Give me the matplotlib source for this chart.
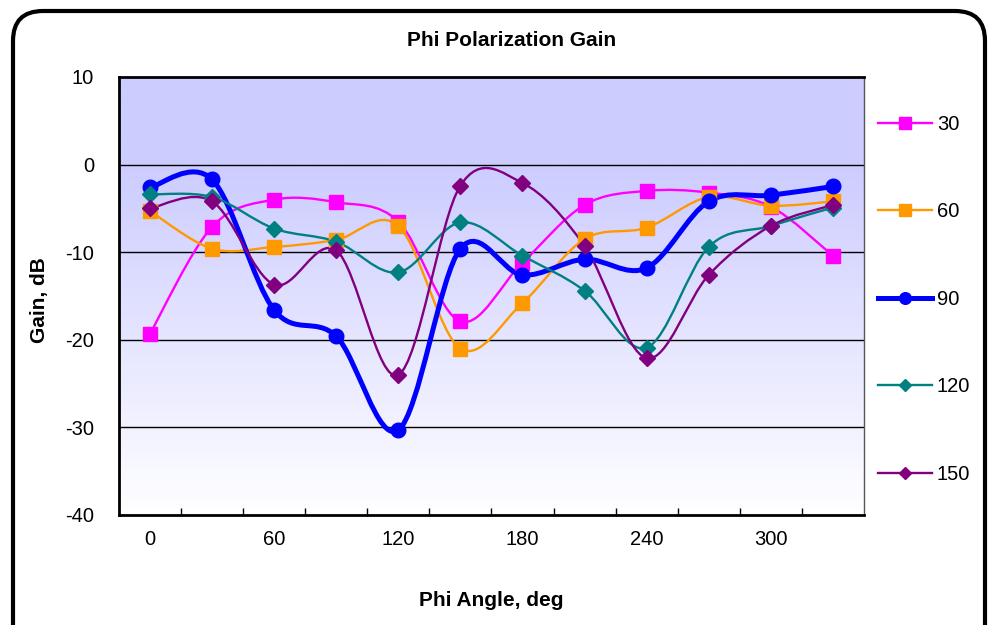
import numpy as np
import matplotlib
matplotlib.use("Agg")
import matplotlib.pyplot as plt
from matplotlib.path import Path
from matplotlib.patches import PathPatch, FancyBboxPatch
from matplotlib.lines import Line2D

plt.rcParams['font.family'] = ['Liberation Sans', 'DejaVu Sans']
plt.rcParams['axes.unicode_minus'] = False

# data
angles = [0, 30, 60, 90, 120, 150, 180, 210, 240, 270, 300, 330]
gain_30 = [-19.3, -7.1, -4.0, -4.3, -6.5, -17.9, -11.2, -4.6, -3.0, -3.2, -4.8, -10.4]
gain_60 = [-5.3, -9.6, -9.4, -8.6, -7.0, -21.0, -15.8, -8.5, -7.2, -3.7, -4.7, -4.2]
gain_90 = [-2.6, -1.7, -16.6, -19.6, -30.3, -9.6, -12.6, -10.8, -11.8, -4.2, -3.5, -2.5]
gain_120 = [-3.4, -3.7, -7.3, -8.8, -12.3, -6.6, -10.4, -14.4, -20.9, -9.4, -7.0, -4.9]
gain_150 = [-5.0, -4.2, -13.7, -9.8, -24.0, -2.4, -2.1, -9.3, -22.1, -12.6, -7.0, -4.6]
series_names = ['30', '60', '90', '120', '150']
tick_labels = ['0', '60', '120', '180', '240', '300']


def smooth_path(xs, ys):
    # Excel-like smoothed line: cubic bezier segments through every point
    p = np.column_stack([xs, ys]).astype(float)
    n = len(p)
    verts = [p[0]]
    codes = [Path.MOVETO]
    for i in range(n - 1):
        p0 = p[i - 1] if i > 0 else p[i]
        p3 = p[i + 2] if i + 2 < n else p[i + 1]
        c1 = p[i] + (p[i + 1] - p0) / 6.0
        c2 = p[i + 1] - (p3 - p[i]) / 6.0
        verts += [c1, c2, p[i + 1]]
        codes += [Path.CURVE4] * 3
    return Path(verts, codes)


fig = plt.figure(figsize=(9.88, 6.25), dpi=100)
ax = fig.add_axes([0.1204, 0.176, 0.754, 0.7008])

# gradient background: lavender on top fading to white at the bottom
yy = np.linspace(10, -40, 400)
t = np.clip(-yy / 40.0, 0, 1)
top = np.array([204, 204, 255]) / 255.0
bot = np.array([255, 255, 255]) / 255.0
grad = top[None, :] * (1 - t[:, None]) + bot[None, :] * t[:, None]
ax.imshow(grad[:, None, :], extent=[-0.5, 11.5, -40, 10], aspect='auto', zorder=0)

x = np.arange(len(angles))
styles = [
    (gain_30, '#FF00FF', 's', 1.7, 10),
    (gain_60, '#FF9900', 's', 1.7, 10),
    (gain_90, '#0000FF', 'o', 3.6, 10.5),
    (gain_120, '#008080', 'D', 1.7, 8),
    (gain_150, '#800080', 'D', 1.7, 8),
]
handles = []
for (vals, col, mk, lw, ms), name in zip(styles, series_names):
    patch = PathPatch(smooth_path(x, vals), facecolor='none', edgecolor=col, lw=lw, zorder=3,
                      capstyle='round', joinstyle='round')
    ax.add_patch(patch)
    ax.plot(x, vals, linestyle='none', marker=mk, color=col, markersize=ms,
            markeredgecolor=col, zorder=4)
    handles.append(Line2D([], [], color=col, lw=lw, marker=mk,
                          markersize=ms * 0.8, label=name))

ax.set_xlim(-0.5, 11.5)
ax.set_ylim(-40, 10)
ax.set_yticks([10, 0, -10, -20, -30, -40])
for v in [0, -10, -20, -30]:
    ax.axhline(v, color='black', lw=1.0, zorder=1)

ax.set_xticks(np.arange(0, 12, 2))
ax.set_xticklabels(tick_labels)
ax.set_xticks(np.arange(0.5, 11.5, 1), minor=True)
ax.tick_params(axis='x', which='major', length=0, labelsize=14.5, pad=11)
ax.tick_params(axis='x', which='minor', length=5, width=1, direction='in')
ax.tick_params(axis='y', length=0, labelsize=14.5, pad=18)

for s in ['left', 'bottom', 'top']:
    ax.spines[s].set_linewidth(2)
    ax.spines[s].set_color('black')
ax.spines['right'].set_linewidth(1)
ax.spines['right'].set_color('#555555')

fig.text(0.518, 0.935, 'Phi Polarization Gain', ha='center', va='center',
         fontsize=15, fontweight='bold')
fig.text(0.497, 0.04, 'Phi Angle, deg', ha='center', va='center',
         fontsize=15, fontweight='bold')
fig.text(0.040, 0.52, 'Gain, dB', ha='center', va='center', rotation=90,
         fontsize=15, fontweight='bold')

fig.legend(handles=handles, loc='center left', bbox_to_anchor=(0.889, 0.521),
           frameon=False, fontsize=14.5, labelspacing=3.4, handlelength=2.65,
           handletextpad=0.25, borderpad=0, borderaxespad=0)

# rounded frame around the whole chart (in inches)
frame = FancyBboxPatch((0.13, -0.6), 9.72, 6.74, transform=fig.dpi_scale_trans,
                       boxstyle='round,pad=0,rounding_size=0.3',
                       facecolor='none', edgecolor='black', lw=3, zorder=10)
fig.patches.append(frame)

fig.savefig('out.png', dpi=100)
